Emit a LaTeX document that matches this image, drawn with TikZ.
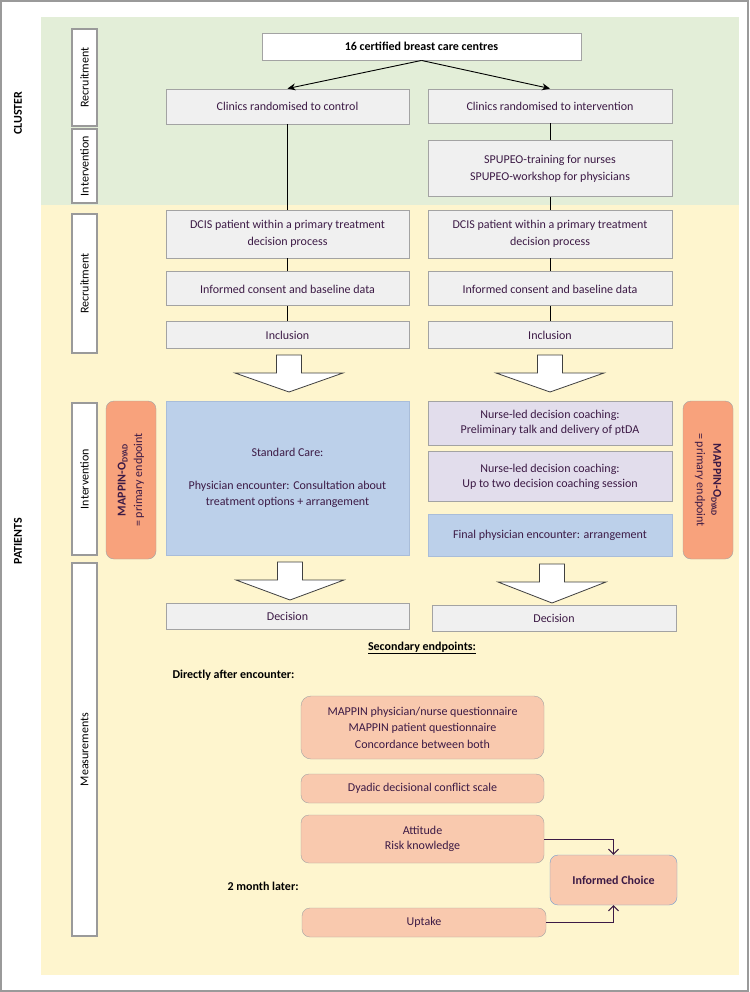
\documentclass[tikz,border=0pt]{standalone}
\usepackage{fontspec}
\setmainfont{Carlito}
\usetikzlibrary{positioning,arrows.meta}

\definecolor{clusterbg}{HTML}{E3EED8}
\definecolor{patientbg}{HTML}{FEF5CE}
\definecolor{framegrey}{HTML}{9A9A9A}
\definecolor{boxgrey}{HTML}{A3A3A3}
\definecolor{boxfill}{HTML}{F0F0F0}
\definecolor{carefill}{HTML}{BCD0EA}
\definecolor{careline}{HTML}{A9BDD9}
\definecolor{coachfill}{HTML}{E2DDEC}
\definecolor{endfill}{HTML}{F8A27C}
\definecolor{measfill}{HTML}{F9C9AE}
\definecolor{choiceline}{HTML}{6F9CD2}
\definecolor{ink}{HTML}{3C1A45}

\newcommand{\bodyfont}{\fontsize{12}{16.5}\selectfont}
\newcommand{\tightfont}{\fontsize{12}{14.5}\selectfont}

\begin{document}
\begin{tikzpicture}[x=1pt, y=-1pt,
  stage/.style={rectangle, draw=boxgrey, fill=boxfill, line width=0.9pt, text=ink,
                align=center, inner sep=2pt, minimum width=243pt},
  care/.style={stage, draw=careline, fill=carefill},
  coach/.style={stage, fill=coachfill},
  phase/.style={rectangle, draw=framegrey, fill=white, line width=1.1pt, rotate=90,
                minimum height=25pt, inner sep=0pt},
  endpoint/.style={rectangle, rounded corners=8pt, draw=boxgrey, fill=endfill, text=ink,
                   align=center, minimum width=158pt, minimum height=50pt},
  measure/.style={rectangle, rounded corners=8pt, draw=boxgrey, fill=measfill, text=ink,
                  align=center, minimum width=243pt},
  blockarrow/.style={draw=black!75, fill=white, line width=0.8pt},
  flow/.style={draw, line width=0.9pt},
  link/.style={draw=ink, line width=1pt, -{Straight Barb[length=5pt, width=10pt]}},
  every node/.style={font=\bodyfont}
]
\useasboundingbox (0,0) rectangle (749,992);

% ==========================================================
% Background
% ==========================================================
\fill[clusterbg] (41,17) rectangle (739,205);
\fill[patientbg] (41,205) rectangle (739,975);
\draw[framegrey, line width=2pt] (1,1) rectangle (748,991);

\node[rotate=90, font=\bodyfont\bfseries] (cluster) at (18,113) {CLUSTER};
\node[rotate=90, font=\bodyfont\bfseries] (patients) at (18,541) {PATIENTS};

\node[phase, minimum width=97pt] (phClRec) at (84.5,77.5) {Recruitment};
\node[phase, minimum width=74pt] (phClInt) at (84.5,166) {Intervention};
\node[phase, minimum width=139pt] (phPaRec) at (84.5,283.5) {Recruitment};
\node[phase, minimum width=152pt] (phPaInt) at (84.5,479) {Intervention};
\node[phase, minimum width=373pt] (phPaMea) at (84.5,749.5) {Measurements};

% ==========================================================
% Clusters
% ==========================================================
\node[stage, fill=white, text=black, minimum width=319pt, minimum height=27pt,
      font=\bodyfont\bfseries] (centres) at (421.5,46.5) {16 certified breast care centres};
\node[stage, minimum height=35pt] (ctrlClin) at (287.5,106.5) {Clinics randomised to control};
\node[stage, minimum width=244pt, minimum height=34pt] (intClin) at (550,106) {Clinics randomised to intervention};
\node[stage, minimum width=244pt, minimum height=56pt, below=17pt of intClin] (training) {SPUPEO-training for nurses\\SPUPEO-workshop for physicians};

% ==========================================================
% Patients
% ==========================================================
\node[stage, minimum height=48pt] (ctrlDcis) at (287.5,234) {DCIS patient within a primary treatment\\decision process};
\node[stage, minimum height=34pt, below=13pt of ctrlDcis] (ctrlConsent) {Informed consent and baseline data};
\node[stage, minimum height=27pt, below=15pt of ctrlConsent] (ctrlIncl) {Inclusion};

\node[stage, minimum width=244pt, minimum height=48pt] (intDcis) at (550,234) {DCIS patient within a primary treatment\\decision process};
\node[stage, minimum width=244pt, minimum height=34pt, below=13pt of intDcis] (intConsent) {Informed consent and baseline data};
\node[stage, minimum width=244pt, minimum height=27pt, below=15pt of intConsent] (intIncl) {Inclusion};

\node[care, minimum height=154pt] (ctrlCare) at (287.5,478) {Standard Care:\\[16pt]Physician encounter: Consultation about\\treatment options + arrangement};

\node[coach, minimum width=244pt, minimum height=44pt, font=\tightfont] (coachA) at (550,423) {Nurse-led decision coaching:\\Preliminary talk and delivery of ptDA};
\node[coach, minimum width=244pt, minimum height=50pt, font=\tightfont, below=6pt of coachA] (coachB) {Nurse-led decision coaching:\\Up to two decision coaching session};
\node[care, minimum width=244pt, minimum height=42pt, below=12pt of coachB] (finalEnc) {Final physician encounter: arrangement};

\node[endpoint, rotate=90] (primL) at (131,480) {\textbf{MAPPIN-O\textsubscript{DYAD}}\\= primary endpoint};
\node[endpoint, rotate=-90] (primR) at (708,480) {\textbf{MAPPIN-O\textsubscript{DYAD}}\\= primary endpoint};

\node[stage, minimum height=26pt] (ctrlDec) at (287.5,616) {Decision};
\node[stage, minimum width=244pt, minimum height=26pt] (intDec) at (554,618) {Decision};

% block arrows
\foreach \cx/\ytop/\ybase/\ytip in {289/355/373/392, 550/355/373/392, 290/562/580/600, 552/564/582/603}
  \draw[blockarrow] (\cx-12.5,\ytop) -- (\cx+12.5,\ytop) -- (\cx+12.5,\ybase) -- (\cx+54,\ybase)
    -- (\cx,\ytip) -- (\cx-54,\ybase) -- (\cx-12.5,\ybase) -- cycle;

% ==========================================================
% Measurements
% ==========================================================
\node[font=\bodyfont\bfseries] (secondary) at (422,648) {\underline{Secondary endpoints:}};
\node[anchor=west, font=\bodyfont\bfseries] (direct) at (169,675) {Directly after encounter:};
\node[anchor=west, font=\bodyfont\bfseries] (later) at (224,886) {2 month later:};

\node[measure, rounded corners=10pt, minimum height=63pt] (mappinQ) at (422.5,727.5) {MAPPIN physician/nurse questionnaire\\MAPPIN patient questionnaire\\Concordance between both};
\node[measure, minimum height=29pt] (dyadic) at (422.5,788.5) {Dyadic decisional conflict scale};
\node[measure, minimum height=48pt, font=\tightfont] (attitude) at (422.5,839) {Attitude\\Risk knowledge};
\node[measure, minimum width=244pt, minimum height=29pt] (uptake) at (424,922.5) {Uptake};
\node[measure, draw=choiceline, minimum width=127pt, minimum height=50pt,
      font=\bodyfont\bfseries] (choice) at (613.5,880) {Informed Choice};

% ==========================================================
% Connectors
% ==========================================================
\draw[flow, -{Stealth[length=8pt, width=7pt]}] (centres.south) -- (ctrlClin.north);
\draw[flow, -{Stealth[length=8pt, width=7pt]}] (centres.south) -- (intClin.north);
\draw[flow] (ctrlClin) -- (ctrlDcis);
\draw[flow] (ctrlDcis) -- (ctrlConsent);
\draw[flow] (ctrlConsent) -- (ctrlIncl);
\draw[flow] (intClin) -- (training);
\draw[flow] (training) -- (intDcis);
\draw[flow] (intDcis) -- (intConsent);
\draw[flow] (intConsent) -- (intIncl);
\draw[link] (attitude.east) -| (choice.north);
\draw[link] (uptake.east) -| (choice.south);

\end{tikzpicture}
\end{document}
